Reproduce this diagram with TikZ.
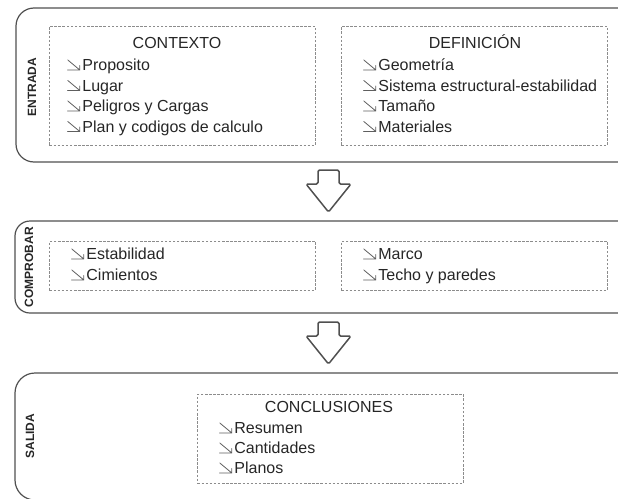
\documentclass[tikz,border=0pt]{standalone}
\usepackage{fontspec}
\setmainfont{Liberation Sans}
\definecolor{boxline}{HTML}{505050}
\definecolor{dashline}{HTML}{8C8C8C}
\definecolor{txt}{HTML}{262626}
\definecolor{glyphcol}{HTML}{5E5E5E}
\newcommand{\flecha}{\tikz[baseline=0pt,x=1pt,y=1pt]{\draw[glyphcol,line width=0.8pt,line cap=round,line join=round] (0.6,10.5) -- (12.6,0.5) (0.4,0.5) -- (12.6,0.5) -- (12.6,5);}\hspace{2.2pt}}
\begin{document}
\begin{tikzpicture}[x=1pt,y=-1pt,
  font=\fontsize{16}{19}\selectfont,
  outerbox/.style={draw=boxline, line width=1.2pt},
  dashbox/.style={draw=dashline, line width=0.8pt, dash pattern=on 2.5pt off 1.6pt, anchor=north west, inner sep=0pt},
  item/.style={anchor=base west, inner sep=0pt, text=txt},
  title/.style={anchor=base, inner sep=0pt, text=txt},
  side/.style={rotate=90, font=\bfseries\fontsize{12}{14}\selectfont, text=txt, inner sep=0pt},
  blockarrow/.style={draw=boxline, line width=1.5pt, rounded corners=1.5pt, line join=round},
  downarrow/.pic={\draw[blockarrow] (-10.5,0) -- (10.5,0) -- (10.5,14) -- (22.5,14) -- (0,42) -- (-22.5,14) -- (-10.5,14) -- cycle;}
]
\useasboundingbox (0,0) rectangle (618,498);
\clip (0,0) rectangle (618,498);

% outer boxes
\draw[outerbox, rounded corners=18pt] (640,8) -- (16,8) -- (16,162) -- (640,162);
\draw[outerbox, rounded corners=15pt] (640,221) -- (15,221) -- (15,313) -- (640,313);
\draw[outerbox, rounded corners=20pt] (640,373) -- (15,373) -- (15,500) -- (640,500);

% side labels
\node[side] (entrada) at (32,87) {ENTRADA};
\node[side] (comprobar) at (29,267) {COMPROBAR};
\node[side] (salida) at (30,436) {SALIDA};

% block arrows
\pic at (328.5,170) {downarrow};
\pic at (328.5,322) {downarrow};

% ENTRADA
\node[dashbox, minimum width=266pt, minimum height=119pt] (ctx) at (49,26) {};
\node[title] (ctxt) at (177,48) {CONTEXTO};
\node[item] (c1) at (67,70.5) {\flecha Proposito};
\node[item] (c2) at (67,91) {\flecha Lugar};
\node[item] (c3) at (67,111.5) {\flecha Peligros y Cargas};
\node[item] (c4) at (67,132) {\flecha Plan y codigos de calculo};

\node[dashbox, minimum width=266pt, minimum height=119pt] (def) at (341,26) {};
\node[title] (deft) at (475,48) {DEFINICIÓN};
\node[item] (d1) at (363,70.5) {\flecha Geometría};
\node[item] (d2) at (363,91) {\flecha Sistema estructural-estabilidad};
\node[item] (d3) at (363,111.5) {\flecha Tamaño};
\node[item] (d4) at (363,132) {\flecha Materiales};

% COMPROBAR
\node[dashbox, minimum width=266pt, minimum height=49pt] (chk1) at (49,241) {};
\node[item] (e1) at (71,259.5) {\flecha Estabilidad};
\node[item] (e2) at (71,280.5) {\flecha Cimientos};
\node[dashbox, minimum width=266pt, minimum height=49pt] (chk2) at (341,241) {};
\node[item] (m1) at (363,259.5) {\flecha Marco};
\node[item] (m2) at (363,280.5) {\flecha Techo y paredes};

% SALIDA
\node[dashbox, minimum width=266pt, minimum height=89pt] (conc) at (197,394) {};
\node[title] (conct) at (329,412.5) {CONCLUSIONES};
\node[item] (s1) at (219,433.5) {\flecha Resumen};
\node[item] (s2) at (219,453.5) {\flecha Cantidades};
\node[item] (s3) at (219,473.5) {\flecha Planos};
\end{tikzpicture}
\end{document}
